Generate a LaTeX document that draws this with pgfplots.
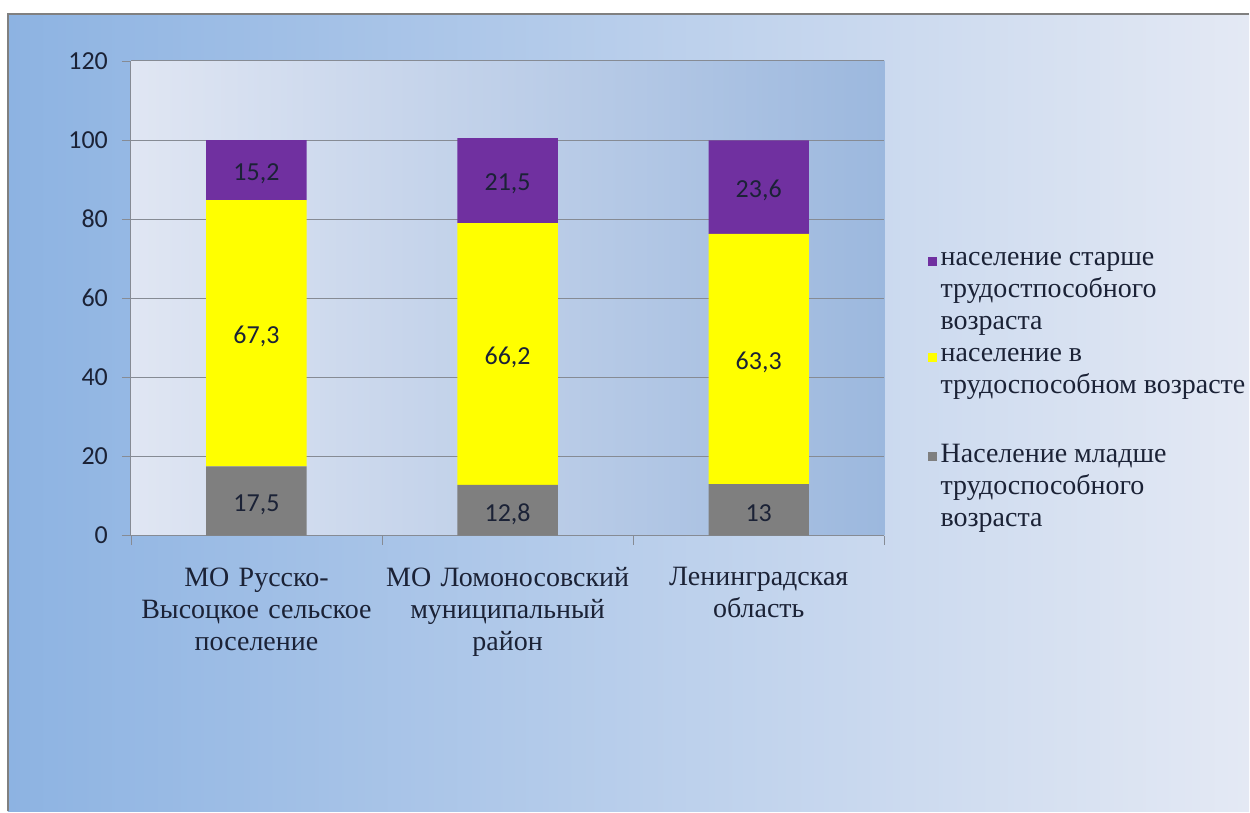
\documentclass[border=0pt]{standalone}
\usepackage{fontspec}
\setmainfont{Liberation Serif}
\newfontfamily\carlito{Carlito}
\usepackage{pgfplots}
\pgfplotsset{compat=1.18}
\definecolor{oldc}{HTML}{7030A0}
\definecolor{workc}{HTML}{FFFF00}
\definecolor{youngc}{HTML}{7F7F7F}
\definecolor{bgL}{HTML}{8DB3E2}
\definecolor{bgR}{HTML}{E4E9F4}
\definecolor{plotL}{HTML}{E0E6F3}
\definecolor{plotR}{HTML}{9CB8DE}
\definecolor{gridc}{HTML}{868B94}
\definecolor{txt}{HTML}{1B2236}
\begin{document}
\begin{tikzpicture}[x=1pt,y=1pt]
  % slide-like background
  \fill[white] (0,0) rectangle (625,406);
  \shade[left color=bgL, right color=bgR] (4,0) rectangle (625,399);
  \draw[gray, line width=1pt] (4,0) -- (4,399) -- (625,399);
  \begin{axis}[
    at={(65.5pt,138pt)}, anchor=south west,
    scale only axis, width=377pt, height=237.5pt,
    ybar stacked, bar width=0.4,
    xmin=-0.5, xmax=2.5, ymin=0, ymax=120,
    xtick={0,1,2},
    xticklabels={{МО Русско-\\Высоцкое сельское\\поселение},{МО Ломоносовский\\муниципальный\\район},{Ленинградская\\область}},
    minor xtick={-0.5,0.5,1.5,2.5},
    ytick={0,20,...,120},
    axis lines*=left,
    axis line style={draw=gridc, -},
    tick align=outside,
    major tick length=4.5pt, minor tick length=4.5pt,
    major x tick style={draw=none},
    minor x tick style={draw=gridc},
    ytick style={draw=gridc},
    ymajorgrids, grid style={draw=gridc, line width=0.5pt},
    axis background/.style={left color=plotL, right color=plotR},
    yticklabel style={font=\carlito\fontsize{13}{13}\selectfont, text=txt, xshift=-3.5pt},
    xticklabel style={font=\rmfamily\fontsize{14}{16}\selectfont, text=txt, text width=130pt, align=center, yshift=-8pt},
    /pgf/number format/assume math mode=true,
    /pgf/number format/use comma,
    visualization depends on=rawy \as \rawy,
    nodes near coords={\pgfmathprintnumber{\rawy}},
    every node near coord/.append style={anchor=center, yshift=-1.8pt, font=\carlito\fontsize{13}{13}\selectfont, text=txt},
    legend style={at={(1.057,0.6063)}, anchor=north west, draw=none, fill=none, inner sep=0pt,
      font=\rmfamily\fontsize{14}{16}\selectfont, text=txt, cells={anchor=west, align=left}, row sep=4pt},
    legend image code/.code={\path (0pt,-20pt) (4.5pt,20pt);
      \fill[#1] (0pt,13.2pt) rectangle (4.5pt,17.7pt);},
    reverse legend,
  ]
    \addplot[fill=youngc, draw=none] coordinates {(0,17.5) (1,12.8) (2,13)};
    \addlegendentry{\rmfamily Население младше\\\rmfamily трудоспособного\\\rmfamily возраста}
    \addplot[fill=workc, draw=none] coordinates {(0,67.3) (1,66.2) (2,63.3)};
    \addlegendentry{\rmfamily население в\\\rmfamily трудоспособном возрасте\\\strut}
    \addplot[fill=oldc, draw=none] coordinates {(0,15.2) (1,21.5) (2,23.6)};
    \addlegendentry{\rmfamily население старше\\\rmfamily трудостпособного\\\rmfamily возраста}
  \end{axis}
\end{tikzpicture}
\end{document}
